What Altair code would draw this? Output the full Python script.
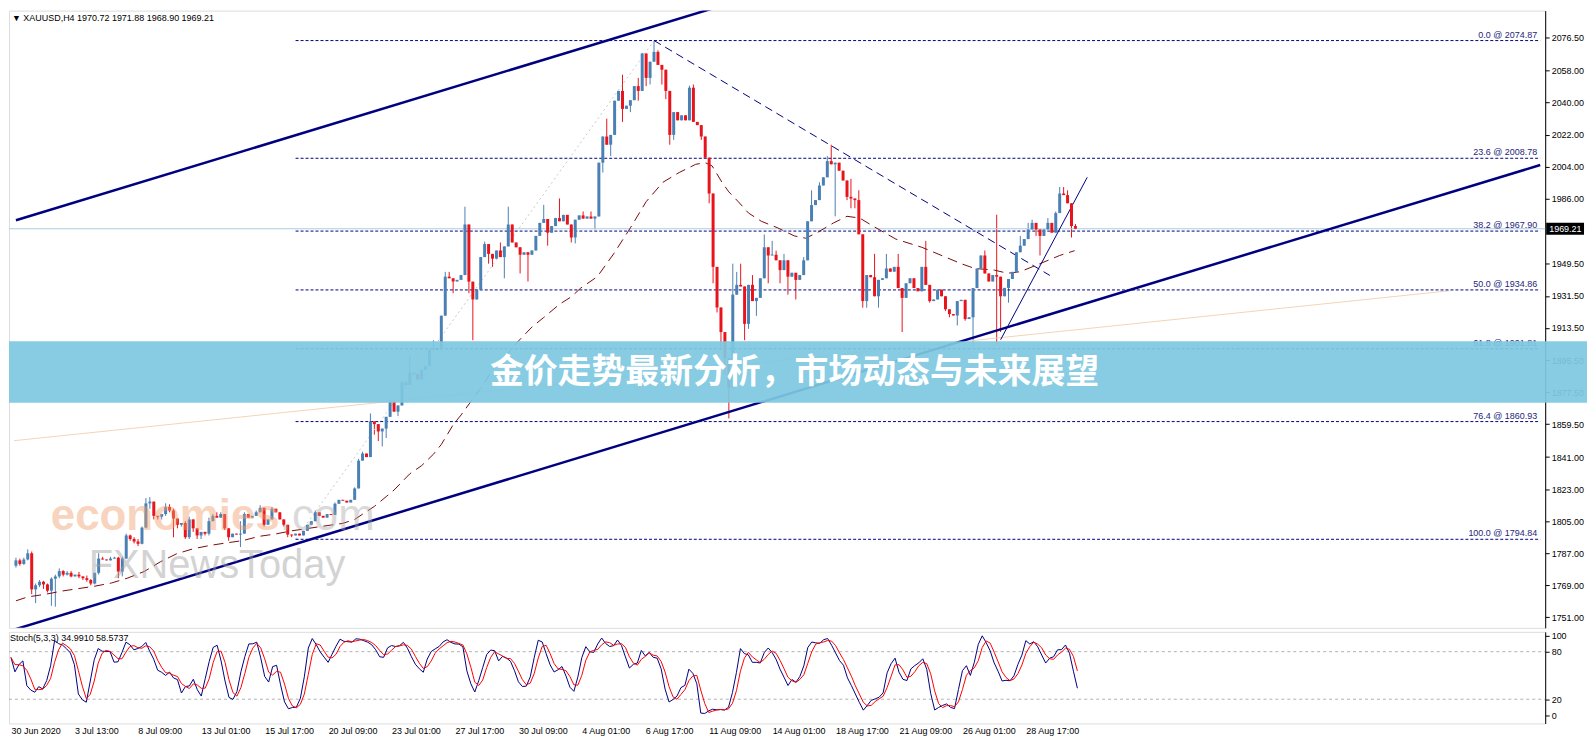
import altair as alt
import pandas as pd
import numpy as np

# ---------------- data ----------------
CLOSE = [
    1783, 1781, 1783.5, 1787, 1766.7, 1769, 1771, 1769.5, 1766, 1772.7,
    1774, 1777, 1775, 1776, 1774, 1775, 1774, 1773, 1772, 1770,
    1776, 1784, 1783.5, 1783, 1784, 1784.5, 1776.7, 1784, 1797, 1795,
    1793.6, 1792.3, 1801.4, 1815, 1816, 1808, 1807.5, 1809, 1813, 1811,
    1806.5, 1803, 1804, 1796, 1806, 1801, 1797, 1799, 1798, 1805,
    1808, 1807, 1809, 1801, 1796, 1798, 1797.5, 1798, 1809, 1807,
    1808, 1810, 1812.5, 1803, 1806, 1812, 1810, 1806, 1803, 1797.5,
    1797, 1798, 1797, 1799.6, 1803, 1805, 1810, 1808, 1807, 1809,
    1808.5, 1814.8, 1817, 1816.5, 1815.5, 1817, 1823.4, 1839, 1843, 1841,
    1861, 1859.5, 1855.4, 1857, 1863.6, 1872, 1866.5, 1870, 1883, 1881.5,
    1888.3, 1887.5, 1884.6, 1890, 1892, 1901.2, 1902, 1901.2, 1920.4, 1942.3,
    1941.4, 1939.6, 1940.5, 1943.2, 1971.6, 1939.5, 1929.5, 1935, 1953.3, 1960.6,
    1955.1, 1952.4, 1957, 1953.3, 1959.3, 1971.6, 1961.5, 1958.8, 1954.6, 1956,
    1954.6, 1957, 1965.2, 1972.5, 1974.7, 1967, 1970.7, 1975.2, 1973.4, 1977,
    1971.6, 1964.3, 1974.3, 1976.7, 1974.9, 1976.1, 1974.9, 1976.1, 2006.3, 2021,
    2016.4, 2021.9, 2041.1, 2046.6, 2036.5, 2038.3, 2041.4, 2049.3, 2046.6, 2067.6,
    2053.9, 2063, 2068.5, 2061.2, 2058.5, 2046.6, 2021.9, 2034.7, 2030.1, 2032.9,
    2030.1, 2048.4, 2029.2, 2027.4, 2021, 2009.1, 1989, 1947.8, 1925, 1911.2,
    1896.5, 1880, 1932.2, 1937.7, 1936.8, 1915.8, 1937.7, 1928.6, 1930.4, 1941.4,
    1958.8, 1954.2, 1954.6, 1951.5, 1946, 1951.5, 1942.3, 1944.5, 1940.5, 1943.2,
    1951.5, 1973.4, 1982.5, 1985.3, 1993.5, 1998.1, 2007.2, 2005.4, 2006.3, 2001.8,
    1996.3, 1987.1, 1986.2, 1985.3, 1966.1, 1928.6, 1943.2, 1942, 1931.3, 1940.5,
    1941.4, 1946.9, 1945.1, 1947.8, 1935.9, 1930.4, 1938.6, 1941.4, 1935.9, 1934.1,
    1947.8, 1937.7, 1928.6, 1929.5, 1935, 1931.3, 1924, 1921.3, 1920.5, 1928.6,
    1929.3, 1918.5, 1919.5, 1935.9, 1946.9, 1954.2, 1944.1, 1939.6, 1943.2, 1942.3,
    1931.3, 1936, 1941, 1945, 1956, 1959.7, 1963.4, 1968.8, 1972.5, 1968.8,
    1965.2, 1968.8, 1972.5, 1967, 1978, 1989, 1988.1, 1983.5, 1970.72, 1969.21,
]
FIRST_OPEN = 1780.0

HIGH_WICKS = {
    0: 1784.5, 1: 1784, 2: 1784.5, 3: 1789.2, 4: 1788, 5: 1770, 6: 1772, 7: 1771.5,
    8: 1770, 9: 1773.5, 10: 1775, 11: 1778.5, 12: 1777.5, 13: 1777, 14: 1777,
    16: 1776.5, 18: 1774.5, 19: 1772.5, 21: 1787, 22: 1785, 24: 1785, 25: 1785,
    26: 1785, 27: 1785, 28: 1798, 29: 1797.5, 30: 1796, 31: 1795, 32: 1802,
    33: 1818, 34: 1818.5, 35: 1816, 38: 1815, 39: 1814.5, 40: 1812, 43: 1805,
    44: 1807.5, 49: 1807, 50: 1809, 51: 1810, 52: 1810, 53: 1809, 57: 1805,
    58: 1810, 61: 1811, 62: 1814, 65: 1813, 76: 1811, 81: 1815.5, 86: 1824,
    87: 1840, 88: 1844, 90: 1865.5, 95: 1873, 98: 1884, 100: 1898.4, 106: 1906.6,
    109: 1945, 110: 1945, 114: 1981.6, 119: 1962, 123: 1961.5, 125: 1981.6,
    134: 1982.6, 138: 1986.2, 144: 1978.9, 146: 1978.9, 150: 2031, 154: 2055.7,
    158: 2053.9, 159: 2068, 162: 2074.9, 163: 2069.4, 171: 2049.5, 172: 2050.2,
    182: 1949.6, 183: 1945, 184: 1949.6, 187: 1943.2, 190: 1966, 192: 1962.4,
    193: 1956.9, 195: 1955.1, 200: 1953.3, 202: 1990.8, 204: 1995.3, 206: 2010,
    207: 2016.4, 212: 1997.2, 214: 1990.8, 218: 1955.1, 221: 1955.1, 224: 1955.1,
    231: 1962.4, 246: 1957, 249: 1977.1, 255: 1965.2, 257: 1972.5, 258: 1974.3,
    262: 1975.2, 264: 1978.9, 265: 1992.6, 266: 1992.6, 267: 1990.8, 269: 1971.88,
}
LOW_WICKS = {
    0: 1779, 1: 1780, 2: 1780.5, 3: 1783, 4: 1764, 5: 1759, 6: 1768, 7: 1767,
    8: 1765, 9: 1757.5, 10: 1757, 11: 1773, 12: 1774, 13: 1774.5, 14: 1773.5,
    16: 1773, 17: 1772, 18: 1771, 19: 1769, 20: 1769.5, 21: 1775, 26: 1773,
    27: 1774, 28: 1784, 29: 1794, 30: 1792.5, 31: 1791, 32: 1792, 33: 1801,
    34: 1812, 35: 1806, 36: 1806, 37: 1806, 38: 1808, 39: 1810, 40: 1796,
    41: 1801, 42: 1802, 43: 1795, 44: 1795, 45: 1799, 46: 1795, 47: 1795,
    48: 1797, 49: 1797, 53: 1800, 54: 1794, 57: 1790.5, 63: 1802, 68: 1802,
    69: 1796, 70: 1796, 91: 1853.6, 92: 1850, 93: 1847, 94: 1851.7, 97: 1864,
    111: 1933, 115: 1933, 116: 1906.6, 120: 1949.6, 121: 1947.8, 124: 1941.4,
    128: 1944.1, 130: 1939.6, 135: 1959.7, 141: 1961.5, 142: 1961, 147: 1968.8,
    149: 2000.8, 151: 2010, 154: 2029.2, 156: 2034.7, 158: 2041.1, 160: 2049.3,
    161: 2050.2, 164: 2050.2, 165: 2042, 166: 2016.4, 167: 2019.1, 174: 2019.1,
    176: 1983.5, 177: 1938.6, 178: 1922.2, 179: 1901.1, 180: 1887.4, 181: 1862.7,
    185: 1906.6, 186: 1913, 188: 1920.3, 191: 1938.6, 194: 1938.6, 196: 1932.2,
    198: 1929.5, 208: 1976.2, 211: 1985.3, 212: 1980.7, 213: 1980.7, 215: 1924.9,
    216: 1924.9, 219: 1924.9, 225: 1911.2, 232: 1927.7, 236: 1923.1, 237: 1919.5,
    239: 1914.9, 241: 1917.6, 243: 1903, 249: 1904.8, 250: 1911.2, 252: 1927.7,
    259: 1965.2, 260: 1954.2, 268: 1964.3, 269: 1968.9,
}

MA_BARS = [0, 3, 7.6, 11.75, 16, 20, 24.25, 28.4, 32.6, 36.75, 40.9, 45, 49.25,
           53.4, 57.6, 61.75, 65.9, 70, 83, 86, 91, 94, 96, 100, 103, 106, 108,
           111, 113, 116, 119, 121, 124, 127, 131, 134, 138, 141, 143.4, 147.6,
           151.75, 156, 160, 164.25, 168.4, 172.6, 175, 176.75, 179.25, 181,
           183.4, 186, 189.25, 193.4, 197.6, 200.5, 203.4, 207.6, 211, 214.25,
           217.6, 223.4, 230, 236, 240, 243.4, 248.4, 251.75, 255, 260, 265, 268.8]
MA_VALUES = [1760.3, 1762.5, 1764, 1765.8, 1767.2, 1768.5, 1770.3, 1773.1, 1776.8,
             1782.3, 1786.8, 1789.5, 1791.4, 1792.8, 1794.1, 1796.5, 1797.8, 1799.6,
             1803.8, 1806, 1813.3, 1818.8, 1822.5, 1831.6, 1836.2, 1842.6, 1848.1,
             1859.1, 1864.6, 1873.7, 1882.8, 1890.2, 1896.6, 1904.8, 1914, 1919.4,
             1926.8, 1931, 1935.9, 1942.3, 1955.1, 1969.7, 1984.4, 1995.3, 2000.8,
             2005.4, 2006.3, 2004.5, 1995.3, 1989.9, 1984.4, 1978, 1973.4, 1969.7,
             1965.2, 1963.9, 1967, 1972.5, 1976.2, 1975.2, 1970.7, 1963.4, 1958.8,
             1953.3, 1949.6, 1946.9, 1946, 1944.2, 1945.1, 1949.6, 1954.2, 1956.9]

FIB_LEVELS = ["0.0", "23.6", "38.2", "50.0", "61.8", "76.4", "100.0"]
FIB_PRICES = [2074.87, 2008.78, 1967.90, 1934.86, 1901.81, 1860.93, 1794.84]
FIB_START_BAR = 71

PRICE_TICKS = [2076.5, 2058, 2040, 2022, 2004, 1986, 1949.5, 1931.5, 1913.5,
               1895.5, 1877.5, 1859.5, 1841, 1823, 1805, 1787, 1769, 1751]
STOCH_TICKS = [0, 20, 80, 100]
STOCH_LEVELS = [20, 80]
DATE_LABELS = ["30 Jun 2020", "3 Jul 13:00", "8 Jul 09:00", "13 Jul 01:00",
               "15 Jul 17:00", "20 Jul 09:00", "23 Jul 01:00", "27 Jul 17:00",
               "30 Jul 09:00", "4 Aug 01:00", "6 Aug 17:00", "11 Aug 09:00",
               "14 Aug 01:00", "18 Aug 17:00", "21 Aug 09:00", "26 Aug 01:00",
               "28 Aug 17:00"]
DATE_STEP = 16

BID = 1969.21
TITLE = "XAUUSD,H4  1970.72 1971.88 1968.90 1969.21"
STOCH_TITLE = "Stoch(5,3,3) 34.9910 58.5737"
BANNER = "金价走势最新分析，市场动态与未来展望"

# drawn objects: (bar, price) end points
UPPER_CHANNEL_BARS = [0, 180];       UPPER_CHANNEL_PRICES = [1974.0, 2095.0]
LOWER_CHANNEL_BARS = [-0.5, 387];    LOWER_CHANNEL_PRICES = [1744.1, 2005.0]
DESC_LINE_BARS = [162, 262.5];       DESC_LINE_PRICES = [2074.9, 1943.0]
ASC_LINE_BARS = [250, 272];          ASC_LINE_PRICES = [1906.9, 1998.1]
FIB_DIAG_BARS = [71, 162];           FIB_DIAG_PRICES = [1794.84, 2074.87]
PEACH_LINE_BARS = [-0.5, 364];       PEACH_LINE_PRICES = [1850.2, 1934.4]

# ---------------- tables ----------------
n = len(CLOSE)
close = pd.Series(CLOSE, dtype=float)
opn = close.shift(1).fillna(FIRST_OPEN)
hi = pd.Series([HIGH_WICKS.get(i, np.nan) for i in range(n)])
lo = pd.Series([LOW_WICKS.get(i, np.nan) for i in range(n)])
body_top = np.maximum(opn, close)
body_bot = np.minimum(opn, close)
high = np.fmax(hi, body_top)
low = np.fmin(lo, body_bot)
body_top_vis = np.where(body_top - body_bot < 0.5, body_bot + 0.5, body_top)

candles = pd.DataFrame({
    "bar": np.arange(n), "open": opn, "close": close, "high": high, "low": low,
    "body_bot": body_bot, "body_top": body_top_vis,
    "dir": np.where(close >= opn, "up", "down"),
})

# Stochastic (5,3,3) derived from the candles
ll = candles["low"].rolling(5, min_periods=1).min()
hh = candles["high"].rolling(5, min_periods=1).max()
num = (candles["close"] - ll).rolling(3, min_periods=1).sum()
den = (hh - ll).rolling(3, min_periods=1).sum().replace(0, np.nan)
k_line = (100 * num / den).fillna(50)
d_line = k_line.rolling(3, min_periods=1).mean()
stoch = pd.DataFrame({"bar": np.arange(n), "K": k_line, "D": d_line})

ma = pd.DataFrame({"bar": MA_BARS, "price": MA_VALUES})
fib = pd.DataFrame({"price": FIB_PRICES,
                    "label": [f"{l} @ {p:.2f}" for l, p in zip(FIB_LEVELS, FIB_PRICES)],
                    "start": FIB_START_BAR, "end": 387})


def seg(name, bars, prices):
    return pd.DataFrame({"line": name, "bar": bars, "price": prices})


channels = pd.concat([seg("upper", UPPER_CHANNEL_BARS, UPPER_CHANNEL_PRICES),
                      seg("lower", LOWER_CHANNEL_BARS, LOWER_CHANNEL_PRICES)])
desc = seg("desc", DESC_LINE_BARS, DESC_LINE_PRICES)
asc = seg("asc", ASC_LINE_BARS, ASC_LINE_PRICES)
fdiag = seg("fib", FIB_DIAG_BARS, FIB_DIAG_PRICES)
peach = seg("peach", PEACH_LINE_BARS, PEACH_LINE_PRICES)

# ---------------- styling ----------------
FONT = "Liberation Sans"
NAVY = "#000080"
BULL = "#4a80b4"
BEAR = "#e8141b"
W = 1543
H_MAIN = 620
H_STOCH = 92

xscale = alt.Scale(domain=[-0.5, 387], nice=False, zero=False)
yscale = alt.Scale(domain=[1747.9, 2088.9], nice=False, zero=False)
sscale = alt.Scale(domain=[-10.55, 105.0], nice=False, zero=False)

price_axis = alt.Axis(orient="right", values=PRICE_TICKS, format=".2f", title=None,
                      grid=False, tickSize=4, labelPadding=2, labelFontSize=9,
                      labelFont=FONT, labelColor="black", tickColor="black",
                      domainColor="black")


def X(f):
    return alt.X(f, type="quantitative", scale=xscale, axis=None, title=None)


def Y(f):
    return alt.Y(f, type="quantitative", scale=yscale, axis=price_axis, title=None)


dircolor = alt.Color("dir:N", scale=alt.Scale(domain=["up", "down"], range=[BULL, BEAR]),
                     legend=None)

base = alt.Chart(candles)
wicks = base.mark_rule(strokeWidth=1).encode(x=X("bar"), y=Y("low"), y2="high", color=dircolor)
bodies = base.mark_bar(size=3).encode(x=X("bar"), y=Y("body_bot"), y2="body_top", color=dircolor)

bidline = alt.Chart(pd.DataFrame({"price": [BID]})).mark_rule(
    color="#a9cfe0", strokeWidth=1).encode(x=alt.value(0), x2=alt.value(W), y=Y("price"))

peach_l = alt.Chart(peach).mark_line(color="#f4d3b8", strokeWidth=1, clip=True).encode(
    x=X("bar"), y=Y("price"))
fdiag_l = alt.Chart(fdiag).mark_line(color="#c9c9c9", strokeWidth=1, strokeDash=[2, 3],
                                     clip=True).encode(x=X("bar"), y=Y("price"))
fib_rules = alt.Chart(fib).mark_rule(color=NAVY, strokeWidth=1, strokeDash=[3, 2]).encode(
    x=X("start"), x2="end", y=Y("price"))
fib_text = alt.Chart(fib).mark_text(align="right", baseline="bottom", dx=-3, dy=-1,
                                    fontSize=9, font=FONT, color="#25257a").encode(
    x=X("end"), y=Y("price"), text="label:N")
channel_l = alt.Chart(channels).mark_line(color=NAVY, strokeWidth=2.5, clip=True).encode(
    x=X("bar"), y=Y("price"), detail="line:N")
desc_l = alt.Chart(desc).mark_line(color=NAVY, strokeWidth=1, strokeDash=[8, 5], clip=True).encode(
    x=X("bar"), y=Y("price"))
asc_l = alt.Chart(asc).mark_line(color=NAVY, strokeWidth=1, clip=True).encode(
    x=X("bar"), y=Y("price"))
ma_l = alt.Chart(ma).mark_line(color="#7a0a0a", strokeWidth=1, strokeDash=[10, 6], clip=True).encode(
    x=X("bar"), y=Y("price"))

wm1 = alt.Chart(pd.DataFrame({"t": ["economies"]})).mark_text(
    align="left", baseline="alphabetic", font=FONT, fontSize=44, fontWeight="bold",
    color="#f0a070", opacity=0.45).encode(x=alt.value(42), y=alt.value(522), text="t:N")
wm2 = alt.Chart(pd.DataFrame({"t": [".com"]})).mark_text(
    align="left", baseline="alphabetic", font=FONT, fontSize=44,
    color="#a8a8a8", opacity=0.42).encode(x=alt.value(272), y=alt.value(522), text="t:N")
wm3 = alt.Chart(pd.DataFrame({"t": ["FXNewsToday"]})).mark_text(
    align="left", baseline="alphabetic", font=FONT, fontSize=40,
    color="#a0a0a0", opacity=0.45).encode(x=alt.value(80), y=alt.value(570), text="t:N")

title_t = alt.Chart(pd.DataFrame({"t": ["▼  " + TITLE]})).mark_text(
    align="left", baseline="top", font=FONT, fontSize=9, color="black").encode(
    x=alt.value(3), y=alt.value(3), text="t:N")

bid_box = alt.Chart(pd.DataFrame({"price": [BID]})).mark_bar(
    orient="horizontal", size=12, color="black").encode(
    x=alt.value(W + 1), x2=alt.value(W + 39), y=Y("price"))
bid_txt = alt.Chart(pd.DataFrame({"price": [BID], "t": [f"{BID:.2f}"]})).mark_text(
    align="left", baseline="middle", font=FONT, fontSize=9, color="white").encode(
    x=alt.value(W + 4), y=Y("price"), text="t:N")

banner = alt.Chart(pd.DataFrame({"t": [BANNER]})).mark_rect(
    color="#7ec8e0", opacity=0.93).encode(
    x=alt.value(0), x2=alt.value(W + 42), y=alt.value(332), y2=alt.value(394))
banner_t = alt.Chart(pd.DataFrame({"t": [BANNER]})).mark_text(
    align="center", baseline="middle", font="Noto Sans CJK SC", fontSize=34,
    fontWeight="bold", color="white").encode(x=alt.value(789), y=alt.value(364), text="t:N")

main = alt.layer(
    wicks, bidline, peach_l, fdiag_l, fib_rules, fib_text, ma_l, desc_l, asc_l,
    bodies, channel_l, wm1, wm2, wm3, title_t, bid_box, bid_txt, banner, banner_t,
).properties(width=W, height=H_MAIN)

# ---------------- stochastic panel ----------------
label_expr = "[" + ",".join(f"'{d}'" for d in DATE_LABELS) + f"][round(datum.value / {DATE_STEP})]"
date_axis = alt.Axis(values=[DATE_STEP * i for i in range(len(DATE_LABELS))],
                     labelExpr=label_expr, labelAlign="left", labelFlush=False,
                     labelOverlap=False, labelBound=False, ticks=False, domain=False,
                     grid=False, labelPadding=3, labelFontSize=9, labelFont=FONT,
                     labelColor="black", title=None)
stoch_axis = alt.Axis(orient="right", values=STOCH_TICKS, format="d", title=None, grid=False,
                      tickSize=4, labelPadding=2, labelFontSize=9, labelFont=FONT,
                      labelColor="black", tickColor="black", domainColor="black")


def SX(f):
    return alt.X(f, type="quantitative", scale=xscale, axis=date_axis, title=None)


def SY(f):
    return alt.Y(f, type="quantitative", scale=sscale, axis=stoch_axis, title=None)


levels = alt.Chart(pd.DataFrame({"lvl": STOCH_LEVELS})).mark_rule(
    color="#b0b0b0", strokeDash=[3, 3], strokeWidth=1).encode(
    x=alt.value(0), x2=alt.value(W), y=SY("lvl"))
k_l = alt.Chart(stoch).mark_line(color=NAVY, strokeWidth=1).encode(x=SX("bar"), y=SY("K"))
d_l = alt.Chart(stoch).mark_line(color="#ff0000", strokeWidth=1).encode(x=SX("bar"), y=SY("D"))
stoch_t = alt.Chart(pd.DataFrame({"t": [STOCH_TITLE]})).mark_text(
    align="left", baseline="top", font=FONT, fontSize=9, color="black").encode(
    x=alt.value(1), y=alt.value(2), text="t:N")

stoch_panel = alt.layer(levels, k_l, d_l, stoch_t).properties(width=W, height=H_STOCH)

chart = alt.vconcat(main, stoch_panel, spacing=4, bounds="flush").properties(
    padding=0
).configure_view(stroke="black", strokeWidth=1).configure(background="white")

chart.save("out.html", embed_options={"renderer": "svg", "actions": False})
